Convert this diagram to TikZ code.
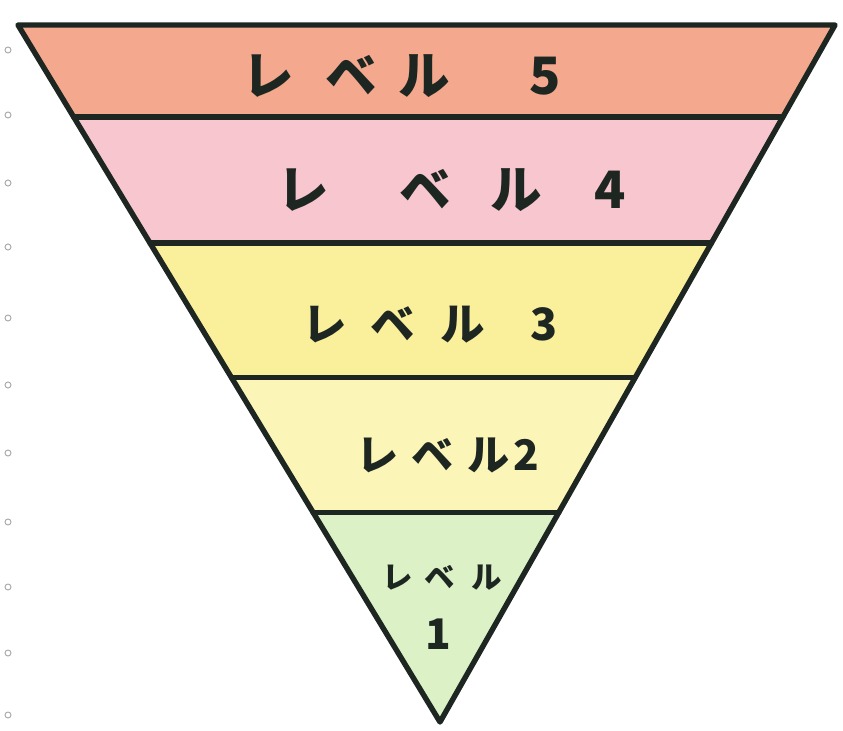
\documentclass[tikz,border=0pt]{standalone}
\usepackage{fontspec}
\newfontfamily\jp{Noto Sans CJK JP}
\usepackage{tikz}
\usetikzlibrary{calc}
\definecolor{Ink}{HTML}{1E2622}
\definecolor{Lv5}{HTML}{F4A98F}
\definecolor{Lv4}{HTML}{F8C6CF}
\definecolor{Lv3}{HTML}{FAF09C}
\definecolor{Lv2}{HTML}{FBF6B8}
\definecolor{Lv1}{HTML}{DCF1C6}
\definecolor{Hole}{HTML}{A8A8A8}
\begin{document}
\begin{tikzpicture}[
  x=0.03cm,y=-0.03cm,
  edge/.style={draw=Ink,line width=4.6pt,line cap=round,line join=round},
  lvl/.style={font=\jp\bfseries\fontsize{#1}{#1}\selectfont,text=Ink,inner sep=0pt},
  hole/.style={draw=Hole,line width=0.8pt}
]
\useasboundingbox (0,0) rectangle (843,730);
\coordinate (TL) at (18,25);
\coordinate (TR) at (835,25);
\coordinate (V) at (440,722);
\foreach \t [count=\i] in {0.132,0.313,0.506,0.699} {
  \coordinate (L\i) at ($(TL)!\t!(V)$);
  \coordinate (R\i) at ($(TR)!\t!(V)$);
}
% bands
\fill[Lv5] (TL) -- (TR) -- (R1) -- (L1) -- cycle;
\fill[Lv4] (L1) -- (R1) -- (R2) -- (L2) -- cycle;
\fill[Lv3] (L2) -- (R2) -- (R3) -- (L3) -- cycle;
\fill[Lv2] (L3) -- (R3) -- (R4) -- (L4) -- cycle;
\fill[Lv1] (L4) -- (R4) -- (V) -- cycle;
% outline and dividers
\draw[edge] (TL) -- (TR) -- (V) -- cycle;
\foreach \i in {1,...,4} \draw[edge] (L\i) -- (R\i);
% labels
\node[lvl=44pt] (lv5) at (402,76) {レ\hspace{0.6em}ベ\hspace{0.42em}ル\hspace{1.55em}5};
\node[lvl=44pt] (lv4) at (452,190) {レ\hspace{1.37em}ベ\hspace{0.75em}ル\hspace{1.03em}4};
\node[lvl=38pt] (lv3) at (430,325) {レ\hspace{0.53em}ベ\hspace{0.57em}ル\hspace{1.03em}3};
\node[lvl=36pt] (lv2) at (448,455) {レ\hspace{0.31em}ベ\hspace{0.31em}ル\hspace{0.1em}2};
\node[lvl=26pt] (lv1a) at (442,578) {レ\hspace{0.38em}ベ\hspace{0.54em}ル};
\node[lvl=36pt] (lv1b) at (438,634) {1};
% binder holes
\foreach \y in {50,115,183,247,318,385,453,522,587,653,715}
  \draw[hole] (8,\y) circle (3);
\end{tikzpicture}
\end{document}
